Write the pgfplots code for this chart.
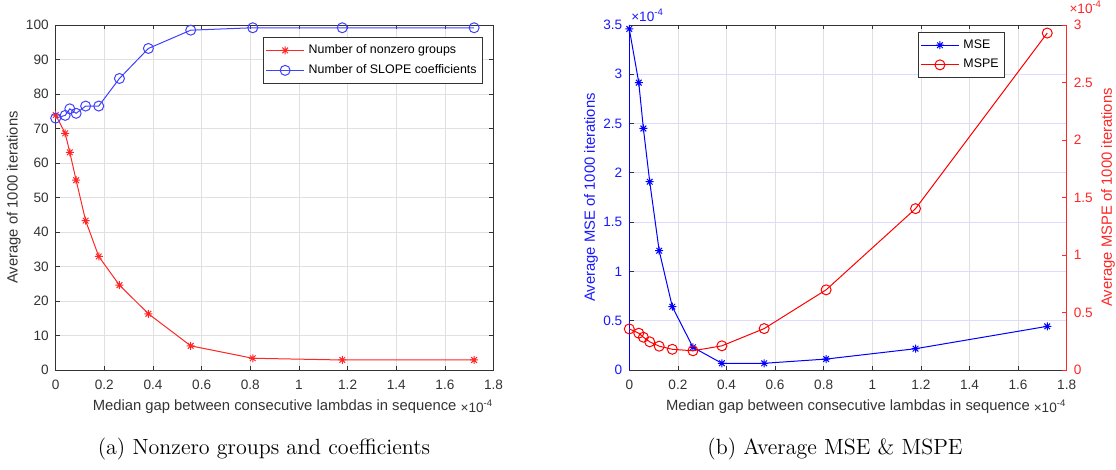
\documentclass[border=0pt]{standalone}
\usepackage{fontspec}
\setsansfont{Liberation Sans}
\usepackage{pgfplots}
\pgfplotsset{compat=1.18}

% MATLAB style '*' marker: a plus and a cross
\pgfdeclareplotmark{mstar}{%
  \pgfpathmoveto{\pgfqpoint{-\pgfplotmarksize}{0pt}}\pgfpathlineto{\pgfqpoint{\pgfplotmarksize}{0pt}}%
  \pgfpathmoveto{\pgfqpoint{0pt}{-\pgfplotmarksize}}\pgfpathlineto{\pgfqpoint{0pt}{\pgfplotmarksize}}%
  \pgfpathmoveto{\pgfqpoint{-0.707\pgfplotmarksize}{-0.707\pgfplotmarksize}}\pgfpathlineto{\pgfqpoint{0.707\pgfplotmarksize}{0.707\pgfplotmarksize}}%
  \pgfpathmoveto{\pgfqpoint{-0.707\pgfplotmarksize}{0.707\pgfplotmarksize}}\pgfpathlineto{\pgfqpoint{0.707\pgfplotmarksize}{-0.707\pgfplotmarksize}}%
  \pgfusepathqstroke}

\newcommand\tickfont{\sffamily\fontsize{6.8}{7.5}\selectfont}
\newcommand\labfont{\sffamily\fontsize{7.4}{8.5}\selectfont}
\newcommand\legfont{\sffamily\fontsize{6.2}{7}\selectfont}

\pgfplotstableread{
x      groups coefs
0      73.9   73.0
0.039  68.6   73.8
0.058  63.1   75.7
0.084  55.0   74.4
0.123  43.3   76.5
0.177  32.9   76.5
0.262  24.6   84.5
0.381  16.3   93.2
0.555  7.0    98.5
0.810  3.4    99.2
1.178  2.9    99.2
1.720  2.9    99.2
}\nzdata

\pgfplotstableread{
x      mse    mspe
0      3.46   0.357
0.039  2.915  0.320
0.058  2.45   0.285
0.084  1.91   0.245
0.123  1.21   0.207
0.177  0.642  0.180
0.262  0.23   0.167
0.381  0.068  0.210
0.555  0.068  0.360
0.810  0.111  0.697
1.178  0.216  1.403
1.720  0.443  2.930
}\errdata

\pgfplotsset{
  mlab/.style={
    scale only axis, height=172.5pt, anchor=south west,
    xmin=0, xmax=1.8, xtick={0,0.2,0.4,0.6,0.8,1,1.2,1.4,1.6,1.8},
    scaled ticks=false, clip=false,
    tick align=inside, major tick length=2.2pt,
    tick style={black!80, line width=0.4pt},
    axis line style={black!80, line width=0.4pt},
    tick label style={font=\tickfont, text=black!80, /pgf/number format/assume math mode=true},
    every axis x label/.style={at={(axis description cs:0.5,0)}, yshift=-18.3pt, anchor=center,
      font=\labfont, text=black!80},
    xticklabel style={yshift=-1.5pt},
    legend cell align=left,
    legend image code/.code={\draw[mark repeat=2,mark phase=2,##1] plot coordinates {(0pt,0pt) (9.5pt,0pt) (19pt,0pt)};},
  },
}

\begin{document}
\begin{tikzpicture}
\useasboundingbox (0,0) rectangle (558pt,235pt);

% (a) nonzero groups and coefficients
\begin{axis}[mlab,
  at={(27.85pt,50pt)}, width=218.95pt,
  ymin=0, ymax=100, ytick={0,10,...,100},
  grid=major, grid style={black!12, line width=0.4pt},
  xlabel={Median gap between consecutive lambdas in sequence},
  ylabel={Average of 1000 iterations},
  every axis y label/.style={at={(axis description cs:-0.0955,0.5)}, rotate=90, anchor=center,
    font=\labfont, text=black!80},
  legend style={at={(rel axis cs:1,1)}, anchor=north east, xshift=-5.3pt, yshift=-6pt,
    draw=black!80, line width=0.4pt, fill=white, font=\legfont,
    inner xsep=1pt, inner ysep=1.5pt, row sep=0pt},
]
\addplot[red!85, line width=0.5pt, mark=mstar, mark size=2pt] table[x=x, y=groups] {\nzdata};
\addlegendentry{Number of nonzero groups}
\addplot[blue!75, line width=0.5pt, mark=o, mark size=2.5pt] table[x=x, y=coefs] {\nzdata};
\addlegendentry{Number of SLOPE coefficients}
\node[anchor=east, font=\tickfont, text=black!80, inner sep=0pt, yshift=-18.3pt] at (rel axis cs:1,0) {×10\textsuperscript{-4}};
\end{axis}

% (b) MSE on the left axis
\begin{axis}[mlab,
  at={(314.65pt,50pt)}, width=218.7pt,
  axis y line*=left, axis x line*=box,
  y axis line style={blue},
  ymin=0, ymax=3.5, ytick={0,0.5,1,1.5,2,2.5,3,3.5},
  yticklabel style={text=blue!90},
  xmajorgrids, ymajorgrids,
  x grid style={black!12, line width=0.4pt},
  y grid style={blue!14, line width=0.4pt},
  xlabel={Median gap between consecutive lambdas in sequence},
  ylabel={Average MSE of 1000 iterations},
  every axis y label/.style={at={(axis description cs:-0.0876,0.5)}, rotate=90, anchor=center,
    font=\labfont, text=blue!90},
]
\addplot[blue, line width=0.5pt, mark=mstar, mark size=2pt] table[x=x, y=mse] {\errdata};
\node[anchor=south west, font=\tickfont, text=blue!90, inner sep=0pt, xshift=0.8pt, yshift=1.5pt] at (rel axis cs:0,1) {×10\textsuperscript{-4}};
\node[anchor=east, font=\tickfont, text=black!80, inner sep=0pt, yshift=-18.3pt] at (rel axis cs:1,0) {×10\textsuperscript{-4}};
\end{axis}

% (b) MSPE on the right axis
\begin{axis}[mlab,
  at={(314.65pt,50pt)}, width=218.7pt,
  axis y line*=right, axis x line=none,
  y axis line style={red!85},
  tick style={red!85, line width=0.4pt},
  ymin=0, ymax=3, ytick={0,0.5,1,1.5,2,2.5,3},
  yticklabel style={text=red!85},
  ylabel={Average MSPE of 1000 iterations},
  every axis y label/.style={at={(axis description cs:1.0944,0.5)}, rotate=90, anchor=center,
    font=\labfont, text=red!85},
  legend style={at={(rel axis cs:1,1)}, anchor=north east, xshift=-30.85pt, yshift=-3.5pt,
    draw=black!80, line width=0.4pt, fill=white, font=\legfont,
    inner xsep=1pt, inner ysep=1.5pt, row sep=0pt},
]
\addlegendimage{blue, line width=0.5pt, mark=mstar, mark size=2pt}
\addlegendentry{MSE}
\addplot[red, line width=0.5pt, mark=o, mark size=2.5pt] table[x=x, y=mspe] {\errdata};
\addlegendentry{MSPE}
\node[anchor=south west, font=\tickfont, text=red!85, inner sep=0pt, xshift=1.2pt, yshift=5.5pt] at (rel axis cs:1,1) {×10\textsuperscript{-4}};
\end{axis}

% captions
\node[font=\rmfamily\fontsize{11}{13}\selectfont, anchor=center] at (132pt,10.5pt) {(a) Nonzero groups and coefficients};
\node[font=\rmfamily\fontsize{11}{13}\selectfont, anchor=center] at (417.5pt,10.5pt) {(b) Average MSE \& MSPE};
\end{tikzpicture}
\end{document}
